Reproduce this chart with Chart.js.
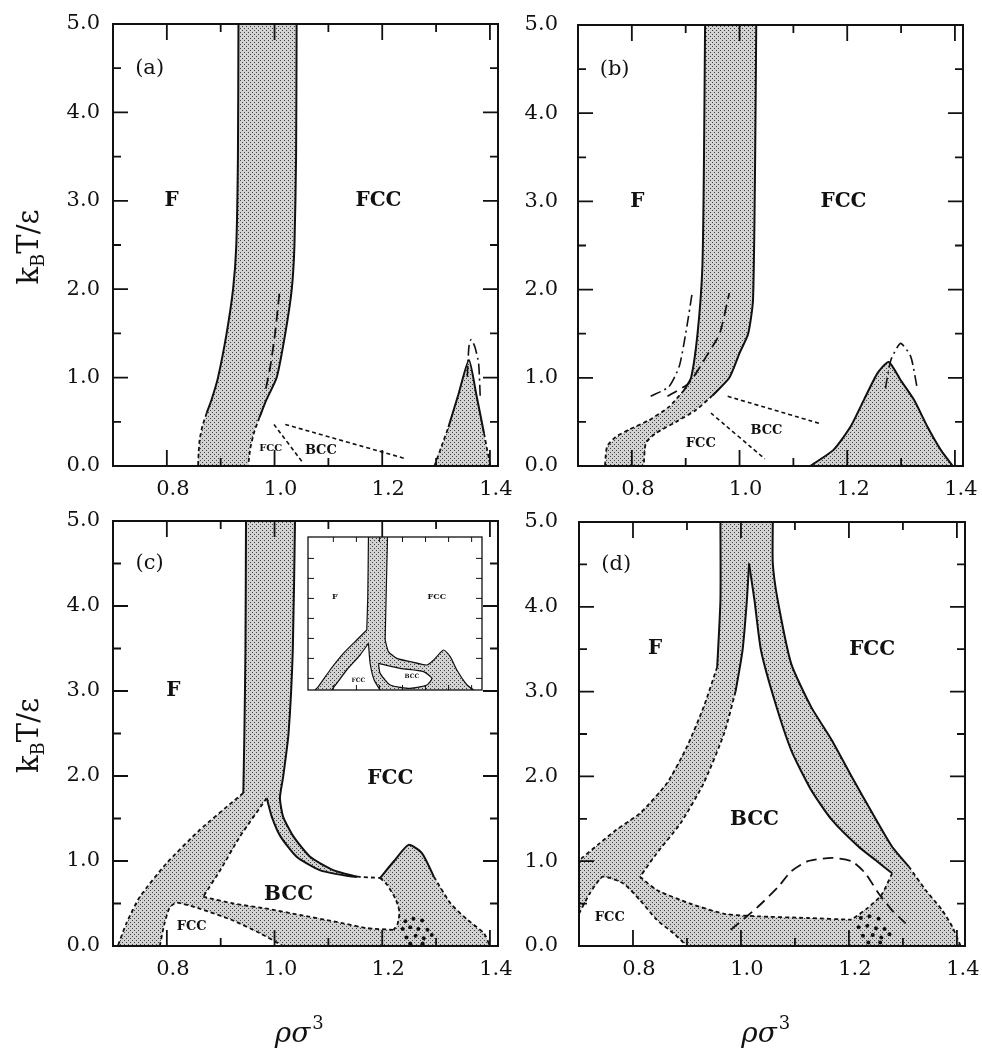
<!DOCTYPE html>
<html>
<head>
<meta charset="utf-8">
<script src="https://cdn.jsdelivr.net/npm/chart.js@4.4.1/dist/chart.umd.min.js"></script>
<style>
  body { margin: 0; background: #fff; width: 982px; height: 1051px; position: relative; overflow: hidden; }
  .panel { position: absolute; }
</style>
</head>
<body>
<div class="panel" style="left:0;top:0;width:525px;height:515px"><canvas id="pa"></canvas></div>
<div class="panel" style="left:490px;top:0;width:492px;height:515px"><canvas id="pb"></canvas></div>
<div class="panel" style="left:0;top:500px;width:525px;height:551px"><canvas id="pc"></canvas></div>
<div class="panel" style="left:490px;top:500px;width:492px;height:551px"><canvas id="pd"></canvas></div>
<div class="panel" style="left:300px;top:530px;width:190px;height:170px"><canvas id="pi"></canvas></div>
<script>
// axes
const xMin = 0.7, xMax = 1.415
const xTickLabels = [0.8, 1.0, 1.2, 1.4]
const yTickLabels = [0, 1, 2, 3, 4, 5]
const xMajor = [0.8, 1.0, 1.2, 1.4]
const xMinor = [0.9, 1.1, 1.3]
const yMajor = [1, 2, 3, 4]
const yMinor = [0.5, 1.5, 2.5, 3.5, 4.5]

// ---- panel (a) ----
const aLeftSolid = [[0.933, 5], [0.932, 3.5], [0.929, 2.5], [0.923, 2.0], [0.911, 1.5], [0.895, 1.0], [0.883, 0.75], [0.874, 0.6]]
const aLeftDash = [[0.874, 0.6], [0.866, 0.45], [0.861, 0.3], [0.859, 0.15], [0.858, 0]]
const aRightSolid = [[1.041, 5], [1.040, 3.5], [1.037, 2.5], [1.032, 2.0], [1.020, 1.5], [1.004, 1.0], [0.985, 0.75], [0.972, 0.55]]
const aRightDash = [[0.972, 0.55], [0.962, 0.38], [0.955, 0.2], [0.951, 0]]
const aInner = [[1.009, 1.95], [1.001, 1.5], [0.992, 1.12], [0.982, 0.82]]
const aPeakLeft = [[1.297, 0], [1.310, 0.22], [1.323, 0.44]]
const aPeakSolid = [[1.323, 0.44], [1.342, 0.82], [1.361, 1.2], [1.375, 0.8], [1.389, 0.37]]
const aPeakRight = [[1.389, 0.37], [1.395, 0.18], [1.401, 0]]
const aPeakDashDot = [[1.358, 1.01], [1.361, 1.35], [1.365, 1.43], [1.372, 1.35], [1.379, 1.16], [1.382, 0.78]]
const aLow1 = [[0.999, 0.47], [1.051, 0.05]]
const aLow2 = [[1.020, 0.47], [1.245, 0.08]]

// ---- panel (b) ----
const bLeftSolid = [[0.936, 5], [0.934, 3.5], [0.931, 2.26], [0.922, 1.5], [0.910, 1.0], [0.897, 0.86]]
const bLeftDash = [[0.897, 0.86], [0.869, 0.67], [0.832, 0.52], [0.794, 0.41], [0.770, 0.33], [0.754, 0.22], [0.750, 0]]
const bRightSolid = [[1.031, 5], [1.029, 3.5], [1.025, 1.88], [1.016, 1.5], [1.0, 1.28], [0.981, 1.0], [0.95, 0.80]]
const bRightDash = [[0.95, 0.80], [0.919, 0.635], [0.882, 0.50], [0.844, 0.37], [0.826, 0.26], [0.822, 0]]
const bDashDot = [[0.835, 0.79], [0.869, 0.9], [0.888, 1.13], [0.90, 1.5], [0.912, 1.96]]
const bInner = [[0.866, 0.79], [0.906, 0.94], [0.938, 1.24], [0.963, 1.5], [0.981, 1.96]]
const bLow1 = [[0.947, 0.6], [1.047, 0.08]]
const bLow2 = [[0.978, 0.79], [1.150, 0.48]]
const bPeak = [[1.131, 0], [1.174, 0.18], [1.206, 0.445], [1.231, 0.75], [1.256, 1.05], [1.277, 1.18], [1.299, 0.975], [1.324, 0.75], [1.349, 0.445], [1.374, 0.18], [1.396, 0]]
const bPeakDashDot = [[1.271, 0.88], [1.281, 1.2], [1.299, 1.39], [1.318, 1.24], [1.330, 0.88]]

// ---- panel (c) ----
const cBandLeft = [[0.947, 5], [0.946, 3.5], [0.944, 2.5], [0.942, 1.80]]
const cBandRight = [[1.038, 5], [1.034, 3.5], [1.026, 2.5], [1.016, 1.99], [1.010, 1.74]]
const cSliverOuter = [[1.010, 1.74], [1.016, 1.52], [1.035, 1.29], [1.066, 1.05], [1.11, 0.89], [1.153, 0.815]]
const cSliverInner = [[0.9855, 1.74], [0.995, 1.52], [1.011, 1.29], [1.041, 1.05], [1.085, 0.89], [1.14, 0.82], [1.153, 0.815]]
const cGap = [[1.153, 0.815], [1.196, 0.80]]
const cPeak = [[1.196, 0.80], [1.222, 1.0], [1.249, 1.19], [1.274, 1.09], [1.296, 0.815]]
const cRightDash = [[1.296, 0.815], [1.327, 0.50], [1.358, 0.31], [1.389, 0.15], [1.40, 0]]
const cLeftOuter = [[0.942, 1.80], [0.923, 1.70], [0.861, 1.365], [0.799, 0.97], [0.75, 0.58], [0.725, 0.27], [0.709, 0]]
const cLeftInner = [[0.9855, 1.74], [0.936, 1.29], [0.899, 0.89], [0.8675, 0.58]]
const cBccBottom = [[0.8675, 0.58], [0.923, 0.50], [0.9855, 0.44], [1.047, 0.365], [1.11, 0.29], [1.172, 0.21], [1.221, 0.19]]
const cBccRight = [[1.196, 0.80], [1.209, 0.72], [1.225, 0.55], [1.232, 0.40], [1.228, 0.25], [1.221, 0.19]]
const cFccSmall = [[0.787, 0], [0.795, 0.25], [0.805, 0.45], [0.818, 0.51], [0.861, 0.44], [0.923, 0.30], [0.973, 0.15], [1.016, 0]]
const cDots = [[1.243, 0.29], [1.258, 0.32], [1.274, 0.30], [1.238, 0.2], [1.252, 0.22], [1.267, 0.2], [1.284, 0.19], [1.245, 0.1], [1.262, 0.12], [1.277, 0.09], [1.292, 0.13], [1.252, 0.03], [1.275, 0.03]]

// ---- panel (d) ----
const dLeftSolid = [[0.962, 5], [0.962, 4.08], [0.956, 3.29]]
const dLeftDash = [[0.956, 3.29], [0.931, 2.82], [0.900, 2.35], [0.863, 1.92], [0.813, 1.565], [0.769, 1.37], [0.738, 1.21], [0.704, 1.03], [0.7, 1.01]]
const dBccLeftSolid = [[1.015, 4.51], [1.011, 4.08], [1.003, 3.49], [0.990, 3.0]]
const dBccLeftDash = [[0.990, 3.0], [0.969, 2.51], [0.931, 1.92], [0.888, 1.447], [0.844, 1.093], [0.813, 0.817]]
const dBccRightSolid = [[1.015, 4.51], [1.025, 4.08], [1.037, 3.49], [1.062, 2.90], [1.093, 2.31], [1.130, 1.84], [1.168, 1.49], [1.218, 1.17], [1.249, 1.014], [1.28, 0.857]]
const dFccSolid = [[1.059, 5], [1.059, 4.51], [1.068, 4.08], [1.093, 3.33], [1.130, 2.82], [1.168, 2.43], [1.205, 2.0], [1.243, 1.57], [1.28, 1.17], [1.311, 0.936]]
const dFccDash = [[1.311, 0.936], [1.342, 0.66], [1.373, 0.42], [1.392, 0.22], [1.407, 0]]
const dBccBottom = [[0.813, 0.817], [0.844, 0.66], [0.906, 0.50], [0.969, 0.38], [1.031, 0.35], [1.124, 0.33], [1.205, 0.31]]
const dBccRightDash = [[1.28, 0.857], [1.26, 0.6], [1.235, 0.45], [1.205, 0.31]]
const dFccSmall = [[0.7, 0.38], [0.72, 0.62], [0.744, 0.817], [0.782, 0.738], [0.813, 0.54], [0.844, 0.31], [0.875, 0.15], [0.9, 0]]
const dLong = [[0.981, 0.19], [1.031, 0.46], [1.068, 0.69], [1.093, 0.88], [1.124, 1.0], [1.168, 1.04], [1.205, 1.0], [1.23, 0.86], [1.255, 0.62], [1.28, 0.42], [1.305, 0.267]]
const dDots = [[1.222, 0.33], [1.238, 0.35], [1.255, 0.32], [1.218, 0.22], [1.234, 0.24], [1.25, 0.21], [1.266, 0.2], [1.226, 0.12], [1.244, 0.13], [1.26, 0.1], [1.275, 0.14], [1.236, 0.04], [1.258, 0.04]]

// ---- inset of (c), own unit box ----
const iXMax = 7.55, iYMax = 7.65
const iTicksX = [1.1, 2.1, 3.1, 4.1, 5.1, 6.1, 7.1]
const iTicksY = [0.58, 1.58, 2.58, 3.58, 4.58, 5.58, 6.58]
const iBandLeft = [[2.623, 7.65], [2.594, 4.67], [2.55, 3.0]]
const iLeftOuter = [[2.55, 3.0], [2.116, 2.5], [1.536, 1.83], [0.957, 1.0], [0.449, 0.17], [0.304, 0]]
const iBandRight = [[3.45, 7.65], [3.39, 4.67], [3.348, 2.5]]
const iFccLower = [[3.348, 2.5], [3.49, 1.92], [3.855, 1.58], [4.43, 1.42], [5.16, 1.25], [5.45, 1.5], [5.88, 2.0], [6.17, 1.67], [6.46, 1.0], [6.9, 0.25], [7.19, 0]]
const iLeftInner = [[2.623, 2.33], [2.26, 1.75], [1.68, 1.0], [1.246, 0.33], [1.03, 0]]
const iFccSmall = [[2.623, 2.33], [2.696, 1.33], [2.87, 0.5], [3.13, 0]]
const iBcc = [[3.058, 1.33], [4.0, 1.08], [5.01, 0.92], [5.377, 0.58], [5.16, 0.25], [4.435, 0.083], [3.565, 0.25], [3.13, 0.83], [3.058, 1.33]]

Chart.defaults.font.family = "'DejaVu Serif', serif"
Chart.defaults.color = '#111'

const P = a => a.map(([x, y]) => ({ x, y }))
const rev = a => a.slice().reverse()
const SOLID = [], SHORT = [4, 3], LONG = [11, 6], DASHDOT = [11, 4, 2, 4]

function line(data, dash, width) {
  return { data: P(data), showLine: true, borderColor: '#111', borderWidth: width || 2, borderDash: dash,
    pointRadius: 0, tension: 0.2, fill: false }
}
function poly(data, kind) {
  return { data: P(data), poly: kind || 'shade', showLine: false, pointRadius: 0 }
}
function dots(data) {
  return { data: P(data), showLine: false, pointRadius: 2, pointBackgroundColor: '#111', pointBorderWidth: 0 }
}

let stipple = null
function pattern(ctx) {
  if (!stipple) {
    const c = document.createElement('canvas')
    c.width = 4; c.height = 4
    const g = c.getContext('2d')
    g.fillStyle = '#d2d2d2'; g.fillRect(0, 0, 4, 4)
    g.fillStyle = '#404040'; g.fillRect(0, 0, 1, 1); g.fillRect(2, 2, 1, 1)
    stipple = c
  }
  return ctx.createPattern(stipple, 'repeat')
}

// per-canvas decoration settings
const panels = {
  pa: { yTitle: true, labels: [['(a)', 0.768, 4.5, 21, ''], ['F', 0.809, 3.0, 20, 'bold'], ['FCC', 1.193, 3.0, 20, 'bold'], ['FCC', 0.993, 0.2, 10, 'bold'], ['BCC', 1.086, 0.17, 13, 'bold']] },
  pb: { labels: [['(b)', 0.768, 4.5, 21, ''], ['F', 0.81, 3.0, 20, 'bold'], ['FCC', 1.193, 3.0, 20, 'bold'], ['FCC', 0.928, 0.25, 13, 'bold'], ['BCC', 1.05, 0.4, 13, 'bold']] },
  pc: { yTitle: true, xTitle: true, labels: [['(c)', 0.768, 4.5, 21, ''], ['F', 0.812, 3.0, 20, 'bold'], ['FCC', 1.215, 1.97, 20, 'bold'], ['BCC', 1.026, 0.6, 20, 'bold'], ['FCC', 0.846, 0.23, 13, 'bold']] },
  pd: { xTitle: true, labels: [['(d)', 0.769, 4.5, 21, ''], ['F', 0.841, 3.51, 20, 'bold'], ['FCC', 1.243, 3.49, 20, 'bold'], ['BCC', 1.025, 1.49, 20, 'bold'], ['FCC', 0.757, 0.34, 13, 'bold']] },
  pi: { inset: true, labels: [['F', 1.17, 4.67, 8, 'bold'], ['FCC', 5.59, 4.67, 8, 'bold'], ['FCC', 2.19, 0.5, 6, 'bold'], ['BCC', 4.51, 0.67, 6, 'bold']] }
}

const phase = {
  id: 'phase',
  beforeDatasetsDraw(chart) {
    const ctx = chart.ctx, a = chart.chartArea
    ctx.save()
    if (panels[chart.canvas.id].inset) {
      ctx.fillStyle = '#fff'
      ctx.fillRect(a.left, a.top, a.width, a.height)
    }
    ctx.beginPath(); ctx.rect(a.left, a.top, a.width, a.height); ctx.clip()
    chart.data.datasets.forEach((ds, i) => {
      if (!ds.poly) return
      const pts = chart.getDatasetMeta(i).data
      ctx.beginPath()
      pts.forEach((p, k) => (k ? ctx.lineTo(p.x, p.y) : ctx.moveTo(p.x, p.y)))
      ctx.closePath()
      ctx.fillStyle = ds.poly === 'white' ? '#fff' : pattern(ctx)
      ctx.fill()
    })
    ctx.restore()
  },
  afterDatasetsDraw(chart) {
    const cfg = panels[chart.canvas.id]
    const ctx = chart.ctx, a = chart.chartArea
    const xs = chart.scales.x, ys = chart.scales.y
    const inset = !!cfg.inset
    ctx.save()
    ctx.strokeStyle = '#111'
    ctx.lineWidth = inset ? 1.3 : 2
    ctx.strokeRect(a.left, a.top, a.width, a.height)
    // inward ticks on all four sides
    const tickX = (v, len) => {
      const px = xs.getPixelForValue(v)
      ctx.beginPath()
      ctx.moveTo(px, a.bottom); ctx.lineTo(px, a.bottom - len)
      ctx.moveTo(px, a.top); ctx.lineTo(px, a.top + len)
      ctx.stroke()
    }
    const tickY = (v, len) => {
      const py = ys.getPixelForValue(v)
      ctx.beginPath()
      ctx.moveTo(a.left, py); ctx.lineTo(a.left + len, py)
      ctx.moveTo(a.right, py); ctx.lineTo(a.right - len, py)
      ctx.stroke()
    }
    if (inset) {
      ctx.lineWidth = 1
      iTicksX.forEach(v => tickX(v, 5))
      iTicksY.forEach(v => tickY(v, 6))
    } else {
      ctx.lineWidth = 1.8
      xMajor.forEach(v => tickX(v, 16))
      xMinor.forEach(v => tickX(v, 8))
      yMajor.forEach(v => tickY(v, 15))
      yMinor.forEach(v => tickY(v, 8))
    }
    // region labels
    ctx.fillStyle = '#111'
    ctx.textAlign = 'center'
    ctx.textBaseline = 'middle'
    cfg.labels.forEach(([t, x, y, size, weight]) => {
      ctx.font = `${weight} ${size}px 'DejaVu Serif', serif`
      ctx.fillText(t, xs.getPixelForValue(x), ys.getPixelForValue(y))
    })
    // axis titles
    if (cfg.yTitle) {
      ctx.save()
      ctx.translate(a.left - 85, (a.top + a.bottom) / 2 + 2)
      ctx.rotate(-Math.PI / 2)
      ctx.textAlign = 'left'
      ctx.textBaseline = 'alphabetic'
      const big = "29px 'DejaVu Serif', serif", small = "18px 'DejaVu Serif', serif"
      ctx.font = big; const wk = ctx.measureText('k').width; const wr = ctx.measureText('T/ε').width
      ctx.font = small; const wb = ctx.measureText('B').width
      let x0 = -(wk + wb + wr) / 2
      ctx.font = big; ctx.fillText('k', x0, 10)
      ctx.font = small; ctx.fillText('B', x0 + wk, 16)
      ctx.font = big; ctx.fillText('T/ε', x0 + wk + wb, 10)
      ctx.restore()
    }
    if (cfg.xTitle) {
      const cx = (a.left + a.right) / 2 - 8, cy = a.bottom + 96
      ctx.textAlign = 'left'
      ctx.textBaseline = 'alphabetic'
      ctx.font = "italic 28px 'DejaVu Serif', serif"
      const w = ctx.measureText('ρσ').width
      ctx.fillText('ρσ', cx - w / 2 - 5, cy)
      ctx.font = "18px 'DejaVu Serif', serif"
      ctx.fillText('3', cx + w / 2 - 3, cy - 13)
    }
    ctx.restore()
  }
}

function mainScales(yWidth, xHeight, yPad) {
  return {
    x: {
      type: 'linear', min: xMin, max: xMax,
      afterBuildTicks: s => { s.ticks = xTickLabels.map(v => ({ value: v })) },
      afterFit: s => { s.height = xHeight; s.paddingLeft = 0; s.paddingRight = 0 },
      grid: { display: false, drawTicks: false }, border: { display: false },
      ticks: { padding: 11, labelOffset: 6, maxRotation: 0, font: { size: 21 }, callback: v => v.toFixed(1) }
    },
    y: {
      type: 'linear', min: 0, max: 5,
      afterBuildTicks: s => { s.ticks = yTickLabels.map(v => ({ value: v })) },
      afterFit: s => { s.width = yWidth; s.paddingTop = 0; s.paddingBottom = 0 },
      grid: { display: false, drawTicks: false }, border: { display: false },
      ticks: { padding: yPad, font: { size: 21 }, callback: v => v.toFixed(1) }
    }
  }
}

function makeChart(id, datasets, padding, scales) {
  return new Chart(document.getElementById(id), {
    type: 'scatter',
    data: { datasets },
    options: {
      responsive: true, maintainAspectRatio: false, animation: false, events: [],
      layout: { autoPadding: false, padding },
      plugins: { legend: { display: false }, tooltip: { enabled: false } },
      scales
    },
    plugins: [phase]
  })
}

// (a)
makeChart('pa', [
  poly([...aLeftSolid, ...aLeftDash.slice(1), ...rev([...aRightSolid, ...aRightDash.slice(1)])]),
  poly([...aPeakLeft, ...aPeakSolid.slice(1), ...aPeakRight.slice(1)]),
  line(aLeftSolid, SOLID), line(aLeftDash, SHORT, 1.8),
  line(aRightSolid, SOLID), line(aRightDash, SHORT, 1.8),
  line(aInner, LONG, 1.8),
  line(aPeakLeft, SHORT, 1.8), line(aPeakSolid, SOLID), line(aPeakRight, SHORT, 1.8),
  line(aPeakDashDot, DASHDOT, 1.6),
  line(aLow1, SHORT, 1.6), line(aLow2, SHORT, 1.6)
], { left: 0, top: 24, right: 27, bottom: 0 }, mainScales(113, 49, 13))

// (b)
makeChart('pb', [
  poly([...bLeftSolid, ...bLeftDash.slice(1), ...rev([...bRightSolid, ...bRightDash.slice(1)])]),
  poly(bPeak),
  line(bLeftSolid, SOLID), line(bLeftDash, SHORT, 1.8),
  line(bRightSolid, SOLID), line(bRightDash, SHORT, 1.8),
  line(bDashDot, DASHDOT, 1.6), line(bInner, LONG, 1.8),
  line(bLow1, SHORT, 1.6), line(bLow2, SHORT, 1.6),
  line(bPeak, SOLID), line(bPeakDashDot, DASHDOT, 1.6)
], { left: 0, top: 25, right: 19, bottom: 0 }, mainScales(88, 49, 20))

// (c)
makeChart('pc', [
  poly([...cBandLeft, [0.9855, 1.74], ...rev(cBandRight)]),
  poly([...cLeftOuter, ...cFccSmall.slice(0, 4), ...rev(cLeftInner)]),
  poly([...cBccBottom, ...rev(cBccRight).slice(1), ...cPeak.slice(1), ...cRightDash.slice(1), ...rev(cFccSmall.slice(3))]),
  poly([...cSliverOuter, ...rev(cSliverInner)]),
  line([...cBandRight, ...cSliverOuter.slice(1)], SOLID), line(cBandLeft, SOLID),
  line(cSliverInner, SOLID), line(cGap, SHORT, 1.8),
  line(cPeak, SOLID), line(cRightDash, SHORT, 1.8),
  line(cLeftOuter, SHORT, 1.8), line(cLeftInner, SHORT, 1.8),
  line(cBccBottom, SHORT, 1.8), line(cBccRight, SHORT, 1.8), line(cFccSmall, SHORT, 1.8),
  dots(cDots)
], { left: 0, top: 21, right: 27, bottom: 0 }, mainScales(113, 105, 13))

// (d)
makeChart('pd', [
  poly([...dLeftSolid, ...dLeftDash.slice(1), ...dFccSmall, ...rev(dFccDash), ...rev(dFccSolid).slice(1)]),
  poly([...dBccLeftSolid, ...dBccLeftDash.slice(1), ...dBccBottom.slice(1), ...rev(dBccRightDash).slice(1), ...rev(dBccRightSolid).slice(1)], 'white'),
  line(dLeftSolid, SOLID), line(dLeftDash, SHORT, 1.8),
  line(dBccLeftSolid, SOLID), line(dBccLeftDash, SHORT, 1.8),
  line(dBccRightSolid, SOLID), line(dFccSolid, SOLID), line(dFccDash, SHORT, 1.8),
  line(dBccBottom, SHORT, 1.8), line(dBccRightDash, SHORT, 1.8), line(dFccSmall, SHORT, 1.8),
  line(dLong, LONG, 1.8),
  dots(dDots)
], { left: 0, top: 22, right: 17, bottom: 0 }, mainScales(89, 105, 21))

// inset in (c)
makeChart('pi', [
  poly([...iBandLeft, [2.623, 2.33], ...rev(iBandRight)]),
  poly([...iLeftOuter, ...rev(iLeftInner)]),
  poly([...iFccSmall, ...rev(iFccLower)]),
  poly(iBcc, 'white'),
  line(iBandLeft, SOLID, 1.2), line(iLeftOuter, SOLID, 1.2), line(iBandRight, SOLID, 1.2),
  line(iFccLower, SOLID, 1.2), line(iLeftInner, SOLID, 1.2), line(iFccSmall, SOLID, 1.2),
  line(iBcc, SOLID, 1.2)
], { left: 8, top: 7, right: 8, bottom: 10 }, {
  x: { type: 'linear', min: 0, max: iXMax, display: false, afterFit: s => { s.paddingLeft = 0; s.paddingRight = 0 } },
  y: { type: 'linear', min: 0, max: iYMax, display: false, afterFit: s => { s.paddingTop = 0; s.paddingBottom = 0 } }
})
</script>
</body>
</html>
